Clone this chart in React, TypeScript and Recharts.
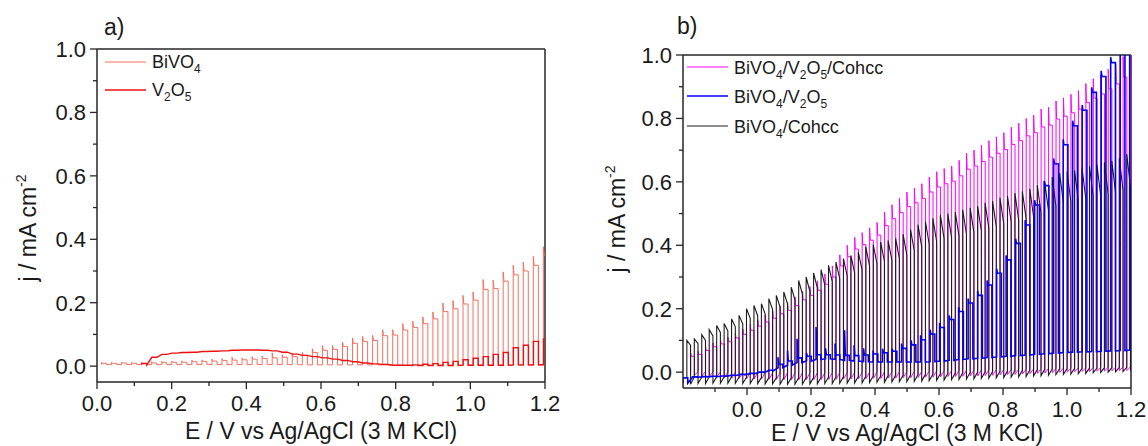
import React from "react";
import {
  LineChart,
  Line,
  XAxis,
  YAxis,
  ReferenceLine,
} from "recharts";

// ---- panel a) data: chopped-light LSV, one value per light pulse ----
const A_START = 0.012;
const A_PERIOD = 0.0269;

const bivo4Peak = [
  0.012, 0.012, 0.013, 0.012, 0.013, 0.014, 0.015, 0.016, 0.017, 0.019,
  0.02, 0.022, 0.024, 0.028, 0.026, 0.03, 0.032, 0.042, 0.036, 0.04,
  0.044, 0.055, 0.065, 0.065, 0.076, 0.089, 0.094, 0.097, 0.115, 0.115,
  0.134, 0.142, 0.155, 0.171, 0.199, 0.207, 0.223, 0.234, 0.273, 0.271,
  0.297, 0.318, 0.328, 0.346, 0.376,
];
const bivo4End = [
  0.009, 0.009, 0.01, 0.009, 0.01, 0.01, 0.011, 0.012, 0.012, 0.014,
  0.015, 0.016, 0.018, 0.019, 0.02, 0.022, 0.024, 0.026, 0.028, 0.03,
  0.034, 0.043, 0.05, 0.053, 0.062, 0.072, 0.078, 0.081, 0.096, 0.098,
  0.114, 0.122, 0.134, 0.149, 0.172, 0.181, 0.196, 0.208, 0.242, 0.245,
  0.268, 0.288, 0.3, 0.318, 0.35,
];
const bivo4Dark = [
  0.005, 0.005, 0.005, 0.005, 0.005, 0.005, 0.005, 0.005, 0.005, 0.005,
  0.005, 0.005, 0.005, 0.005, 0.005, 0.005, 0.005, 0.005, 0.005, 0.005,
  0.004, 0.004, 0.004, 0.004, 0.004, 0.004, 0.004, 0.004, 0.004, 0.004,
  0.003, 0.003, 0.003, 0.003, 0.003, 0.003, 0.003, 0.003, 0.003, 0.003,
  0.003, 0.003, 0.003, 0.003, 0.003,
];

const V2O5_START = 0.12;
const v2o5Light = [
  0.008, 0.028, 0.037, 0.041, 0.043, 0.044, 0.046, 0.047, 0.048, 0.05,
  0.051, 0.051, 0.05, 0.048, 0.044, 0.038, 0.034, 0.03, 0.026, 0.022,
  0.018, 0.014, 0.01, 0.007, 0.005, 0.003, 0.003, 0.004, 0.006, 0.008,
  0.012, 0.015, 0.02, 0.025, 0.03, 0.037, 0.043, 0.058, 0.066, 0.078,
  0.086,
];
const v2o5Dark = [
  0.004, 0.028, 0.037, 0.041, 0.043, 0.044, 0.046, 0.047, 0.048, 0.05,
  0.051, 0.051, 0.05, 0.048, 0.044, 0.038, 0.034, 0.03, 0.026, 0.022,
  0.018, 0.014, 0.01, 0.007, 0.005, 0.003, 0.003, 0.002, 0.002, 0.002,
  0.002, 0.002, 0.003, 0.003, 0.003, 0.003, 0.003, 0.004, 0.004, 0.004,
  0.005,
];

// ---- panel b) data ----
const B_PERIOD = 0.0233;
const MAG_START = -0.176;
const BLK_START = -0.188;
const BLUE_START = -0.2;
const BLUE_PERIOD = 0.0297;

const magentaPeak = [
  0.06, 0.066, 0.08, 0.092, 0.102, 0.11, 0.124, 0.136, 0.15, 0.165,
  0.18, 0.193, 0.208, 0.22, 0.237, 0.255, 0.27, 0.288, 0.31, 0.335,
  0.37, 0.4, 0.425, 0.44, 0.455, 0.472, 0.505, 0.528, 0.548, 0.568,
  0.58, 0.594, 0.615, 0.632, 0.642, 0.65, 0.668, 0.69, 0.7, 0.715,
  0.73, 0.742, 0.755, 0.772, 0.785, 0.8, 0.81, 0.83, 0.835, 0.855,
  0.865, 0.876, 0.888, 0.91, 0.925, 0.938, 0.955, 0.972, 0.995, 1.01,
];
const magentaEnd = [
  0.05, 0.056, 0.068, 0.08, 0.089, 0.096, 0.108, 0.119, 0.132, 0.145,
  0.158, 0.17, 0.184, 0.195, 0.21, 0.228, 0.242, 0.258, 0.277, 0.3,
  0.335, 0.364, 0.388, 0.402, 0.416, 0.432, 0.462, 0.484, 0.503, 0.522,
  0.534, 0.548, 0.568, 0.584, 0.594, 0.602, 0.619, 0.64, 0.65, 0.664,
  0.678, 0.69, 0.702, 0.718, 0.73, 0.745, 0.755, 0.773, 0.779, 0.798,
  0.807, 0.818, 0.829, 0.85, 0.864, 0.877, 0.893, 0.909, 0.93, 0.945,
];
const magentaDip = [
  -0.01, -0.012, -0.014, -0.016, -0.018, -0.019, -0.02, -0.021, -0.022, -0.022,
  -0.023, -0.023, -0.024, -0.024, -0.024, -0.024, -0.024, -0.024, -0.023, -0.023,
  -0.022, -0.022, -0.021, -0.021, -0.02, -0.02, -0.019, -0.019, -0.018, -0.018,
  -0.017, -0.016, -0.016, -0.015, -0.014, -0.014, -0.013, -0.012, -0.012, -0.011,
  -0.01, -0.009, -0.008, -0.007, -0.006, -0.005, -0.004, -0.003, -0.002, -0.001,
  0.0, 0.001, 0.002, 0.002, 0.003, 0.003, 0.004, 0.004, 0.005, 0.005,
];
const magentaDark = [
  0.002, 0.002, 0.002, 0.001, 0.001, 0.0, 0.0, 0.0, -0.001, -0.001,
  -0.001, -0.002, -0.002, -0.002, -0.002, -0.002, -0.002, -0.002, -0.002, -0.001,
  -0.001, -0.001, 0.0, 0.0, 0.0, 0.001, 0.001, 0.001, 0.002, 0.002,
  0.003, 0.003, 0.004, 0.004, 0.005, 0.005, 0.006, 0.006, 0.007, 0.007,
  0.008, 0.008, 0.009, 0.009, 0.01, 0.01, 0.011, 0.011, 0.012, 0.012,
  0.013, 0.013, 0.014, 0.014, 0.015, 0.015, 0.016, 0.016, 0.017, 0.017,
];

const blackPeak = [
  0.1, 0.105, 0.118, 0.134, 0.147, 0.153, 0.168, 0.179, 0.2, 0.21,
  0.216, 0.232, 0.242, 0.253, 0.268, 0.289, 0.3, 0.313, 0.323, 0.337,
  0.347, 0.358, 0.368, 0.379, 0.395, 0.402, 0.41, 0.415, 0.422, 0.435,
  0.45, 0.465, 0.475, 0.485, 0.495, 0.5, 0.505, 0.512, 0.518, 0.524,
  0.534, 0.54, 0.55, 0.556, 0.565, 0.57, 0.578, 0.59, 0.6, 0.615,
  0.628, 0.633, 0.636, 0.645, 0.65, 0.655, 0.662, 0.666, 0.675, 0.688,
];
const blackEnd = [
  0.085, 0.09, 0.1, 0.114, 0.125, 0.13, 0.143, 0.152, 0.17, 0.178,
  0.184, 0.197, 0.206, 0.215, 0.228, 0.246, 0.255, 0.266, 0.275, 0.286,
  0.295, 0.304, 0.313, 0.322, 0.336, 0.342, 0.349, 0.353, 0.359, 0.37,
  0.383, 0.395, 0.404, 0.412, 0.421, 0.425, 0.429, 0.435, 0.44, 0.445,
  0.454, 0.459, 0.468, 0.473, 0.48, 0.485, 0.491, 0.502, 0.51, 0.523,
  0.534, 0.538, 0.541, 0.548, 0.553, 0.557, 0.563, 0.566, 0.574, 0.585,
];
const blackDip = [
  -0.038, -0.036, -0.036, -0.035, -0.035, -0.035, -0.035, -0.036, -0.036, -0.036,
  -0.037, -0.037, -0.038, -0.038, -0.038, -0.038, -0.037, -0.037, -0.036, -0.036,
  -0.035, -0.035, -0.034, -0.034, -0.033, -0.032, -0.032, -0.031, -0.03, -0.03,
  -0.029, -0.028, -0.027, -0.026, -0.025, -0.024, -0.023, -0.022, -0.021, -0.02,
  -0.019, -0.018, -0.017, -0.016, -0.015, -0.014, -0.012, -0.011, -0.01, -0.008,
  -0.007, -0.006, -0.005, -0.004, -0.002, -0.001, 0.0, 0.001, 0.002, 0.004,
];
const blackDark = [
  -0.018, -0.016, -0.016, -0.015, -0.015, -0.015, -0.015, -0.016, -0.016, -0.016,
  -0.017, -0.017, -0.018, -0.018, -0.018, -0.018, -0.017, -0.017, -0.016, -0.016,
  -0.015, -0.015, -0.014, -0.014, -0.013, -0.012, -0.012, -0.011, -0.01, -0.01,
  -0.009, -0.008, -0.007, -0.006, -0.005, -0.004, -0.003, -0.002, -0.001, 0.0,
  0.001, 0.002, 0.003, 0.004, 0.005, 0.006, 0.007, 0.008, 0.009, 0.01,
  0.011, 0.011, 0.012, 0.012, 0.013, 0.013, 0.014, 0.014, 0.015, 0.015,
];

const bluePeak = [
  -0.018, -0.015, -0.014, -0.013, -0.012, -0.01, -0.007, -0.004, 0.0, 0.006,
  0.047, 0.068, 0.105, 0.06, 0.142, 0.075, 0.09, 0.132, 0.085, 0.075,
  0.068, 0.074, 0.074, 0.09, 0.1, 0.116, 0.134, 0.155, 0.179, 0.205,
  0.232, 0.256, 0.289, 0.326, 0.368, 0.421, 0.479, 0.542, 0.603, 0.674,
  0.734, 0.793, 0.842, 0.898, 0.95, 0.993, 1.04, 1.06,
];
const blueEnd = [
  -0.018, -0.015, -0.014, -0.013, -0.012, -0.01, -0.007, -0.004, 0.0, 0.006,
  0.025, 0.035, 0.045, 0.05, 0.055, 0.055, 0.054, 0.053, 0.052, 0.054,
  0.057, 0.061, 0.066, 0.075, 0.086, 0.102, 0.12, 0.141, 0.166, 0.191,
  0.218, 0.242, 0.275, 0.312, 0.354, 0.406, 0.464, 0.527, 0.588, 0.657,
  0.717, 0.777, 0.826, 0.882, 0.932, 0.976, 1.02, 1.045,
];
const blueDark = [
  -0.035, -0.016, -0.015, -0.014, -0.013, -0.011, -0.008, -0.005, -0.001, 0.004,
  0.014, 0.022, 0.03, 0.035, 0.04, 0.042, 0.04, 0.037, 0.035, 0.033,
  0.032, 0.032, 0.032, 0.032, 0.032, 0.032, 0.033, 0.035, 0.037, 0.04,
  0.042, 0.044, 0.046, 0.048, 0.05, 0.052, 0.054, 0.056, 0.058, 0.06,
  0.062, 0.063, 0.064, 0.065, 0.066, 0.067, 0.068, 0.07,
];

// ---- ticks ----
const A_X_TICKS = [0, 0.1, 0.2, 0.3, 0.4, 0.5, 0.6, 0.7, 0.8, 0.9, 1.0, 1.1, 1.2];
const A_Y_TICKS = [0, 0.1, 0.2, 0.3, 0.4, 0.5, 0.6, 0.7, 0.8, 0.9, 1.0];
const B_X_TICKS = [
  -0.15, -0.1, -0.05, 0, 0.05, 0.1, 0.15, 0.2, 0.25, 0.3, 0.35, 0.4, 0.45, 0.5,
  0.55, 0.6, 0.65, 0.7, 0.75, 0.8, 0.85, 0.9, 0.95, 1.0, 1.05, 1.1, 1.15, 1.2,
];
const B_Y_TICKS = [
  0, 0.05, 0.1, 0.15, 0.2, 0.25, 0.3, 0.35, 0.4, 0.45, 0.5, 0.55, 0.6, 0.65,
  0.7, 0.75, 0.8, 0.85, 0.9, 0.95, 1.0,
];
const MAJOR = [0, 0.2, 0.4, 0.6, 0.8, 1.0, 1.2];

const AXIS = "#262626";
const FONT = "'Liberation Sans', Arial, sans-serif";
const C_BIVO4 = "#f4705f";
const C_V2O5 = "#f01010";
const C_MAG = "#ff00ff";
const C_BLUE = "#0000f0";
const C_BLACK = "#1c1c1c";

interface Pt {
  x: number;
  y: number;
}

// one light pulse = dark -> peak (light on) -> plateau -> light off -> dark
function chopped(
  start: number,
  period: number,
  peak: number[],
  end: number[],
  dark: number[],
  decay: boolean,
  dip?: number[]
): Pt[] {
  const pts: Pt[] = [];
  peak.forEach((p, i) => {
    const on = start + i * period;
    const off = on + period / 2;
    pts.push({ x: on, y: dark[i] });
    pts.push({ x: on, y: p });
    if (!decay) pts.push({ x: on + period * 0.08, y: end[i] });
    pts.push({ x: off, y: end[i] });
    pts.push({ x: off, y: dip ? dip[i] : dark[i] });
  });
  return pts;
}

const isMajor = (v: number) => MAJOR.some((m) => Math.abs(m - v) < 1e-6);

function YTick(props: any) {
  const { x, y, payload } = props;
  const major = isMajor(payload.value);
  return (
    <g>
      <line x1={x - (major ? 7 : 4)} x2={x} y1={y} y2={y} stroke={AXIS} strokeWidth={1.3} />
      {major && (
        <text x={x - 11} y={y + 8} textAnchor="end" fontSize={22} fill="#1a1a1a" fontFamily={FONT}>
          {payload.value.toFixed(1)}
        </text>
      )}
    </g>
  );
}

function XTick(props: any) {
  const { x, y, payload } = props;
  const major = isMajor(payload.value);
  return (
    <g>
      <line x1={x} x2={x} y1={y} y2={y + (major ? 7 : 4)} stroke={AXIS} strokeWidth={1.3} />
      {major && (
        <text x={x} y={y + 29} textAnchor="middle" fontSize={22} fill="#1a1a1a" fontFamily={FONT}>
          {payload.value.toFixed(1)}
        </text>
      )}
    </g>
  );
}

const sub = (t: string) => (
  <tspan fontSize={12} dy={5}>
    {t}
  </tspan>
);
const up = (t: string) => <tspan dy={-5}>{t}</tspan>;

export default function App() {
  const bivo4 = chopped(A_START, A_PERIOD, bivo4Peak, bivo4End, bivo4Dark, false);
  const v2o5 = chopped(V2O5_START, A_PERIOD, v2o5Light, v2o5Light, v2o5Dark, false);
  const mag = chopped(MAG_START, B_PERIOD, magentaPeak, magentaEnd, magentaDark, false, magentaDip);
  const blk = chopped(BLK_START, B_PERIOD, blackPeak, blackEnd, blackDark, true, blackDip);
  const blue = chopped(BLUE_START, BLUE_PERIOD, bluePeak, blueEnd, blueDark, false);

  const txt = { fontFamily: FONT, fill: "#1a1a1a" };

  return (
    <div style={{ position: "absolute", left: 0, top: 0, width: 1148, height: 446, background: "#fff" }}>
      <div style={{ position: "absolute", left: 0, top: 0 }}>
        <LineChart width={560} height={446} margin={{ top: 49, right: 15, bottom: 0, left: 0 }}>
          <XAxis
            type="number"
            dataKey="x"
            domain={[0, 1.2]}
            ticks={A_X_TICKS}
            allowDataOverflow
            height={64}
            tickSize={0}
            tickMargin={0}
            tick={(p: any) => <XTick {...p} />}
            axisLine={{ stroke: AXIS, strokeWidth: 1.5 }}
          />
          <YAxis
            type="number"
            domain={[-0.05, 1]}
            ticks={A_Y_TICKS}
            allowDataOverflow
            width={97}
            tickSize={0}
            tickMargin={0}
            tick={(p: any) => <YTick {...p} />}
            axisLine={{ stroke: AXIS, strokeWidth: 1.5 }}
          />
          <ReferenceLine y={1} stroke={AXIS} strokeWidth={1.5} />
          <ReferenceLine x={1.2} stroke={AXIS} strokeWidth={1.5} />
          <Line data={bivo4} dataKey="y" type="linear" dot={false} stroke={C_BIVO4} strokeWidth={1} isAnimationActive={false} />
          <Line data={v2o5} dataKey="y" type="linear" dot={false} stroke={C_V2O5} strokeWidth={1.4} isAnimationActive={false} />
        </LineChart>
      </div>

      <div style={{ position: "absolute", left: 570, top: 0 }}>
        <LineChart width={578} height={446} margin={{ top: 55, right: 17, bottom: 0, left: 0 }}>
          <XAxis
            type="number"
            dataKey="x"
            domain={[-0.2, 1.2]}
            ticks={B_X_TICKS}
            allowDataOverflow
            height={58}
            tickSize={0}
            tickMargin={0}
            tick={(p: any) => <XTick {...p} />}
            axisLine={{ stroke: AXIS, strokeWidth: 1.5 }}
          />
          <YAxis
            type="number"
            domain={[-0.05, 1]}
            ticks={B_Y_TICKS}
            allowDataOverflow
            width={113}
            tickSize={0}
            tickMargin={0}
            tick={(p: any) => <YTick {...p} />}
            axisLine={{ stroke: AXIS, strokeWidth: 1.5 }}
          />
          <ReferenceLine y={1} stroke={AXIS} strokeWidth={1.5} />
          <ReferenceLine x={1.2} stroke={AXIS} strokeWidth={1.5} />
          <Line data={mag} dataKey="y" type="linear" dot={false} stroke={C_MAG} strokeWidth={1} isAnimationActive={false} />
          <Line data={blk} dataKey="y" type="linear" dot={false} stroke={C_BLACK} strokeWidth={1.1} isAnimationActive={false} />
          <Line data={blue} dataKey="y" type="linear" dot={false} stroke={C_BLUE} strokeWidth={1.6} isAnimationActive={false} />
        </LineChart>
      </div>

      {/* titles, axis labels and legends */}
      <svg width={1148} height={446} style={{ position: "absolute", left: 0, top: 0, pointerEvents: "none" }}>
        <text x={104} y={35} fontSize={23} {...txt}>a)</text>
        <text x={677} y={34} fontSize={23} {...txt}>b)</text>

        <text x={28} y={236} fontSize={23} textAnchor="middle" transform="rotate(-90 28 228)" {...txt}>
          j / mA cm<tspan fontSize={14} dy={-10}>-2</tspan>
        </text>
        <text x={617} y={227} fontSize={23} textAnchor="middle" transform="rotate(-90 617 219)" {...txt}>
          j / mA cm<tspan fontSize={14} dy={-10}>-2</tspan>
        </text>
        <text x={321} y={439} fontSize={23} textAnchor="middle" {...txt}>E / V vs Ag/AgCl (3 M KCl)</text>
        <text x={907} y={441} fontSize={23} textAnchor="middle" {...txt}>E / V vs Ag/AgCl (3 M KCl)</text>

        <line x1={105} x2={146} y1={62} y2={62} stroke={C_BIVO4} strokeWidth={1} />
        <text x={152} y={68} fontSize={18} {...txt}>BiVO{sub("4")}</text>
        <line x1={105} x2={146} y1={90} y2={90} stroke={C_V2O5} strokeWidth={1.4} />
        <text x={152} y={96} fontSize={18} {...txt}>V{sub("2")}{up("O")}{sub("5")}</text>

        <line x1={687} x2={728} y1={67} y2={67} stroke={C_MAG} strokeWidth={1} />
        <text x={734} y={74} fontSize={18} {...txt}>
          BiVO{sub("4")}{up("/V")}{sub("2")}{up("O")}{sub("5")}{up("/Cohcc")}
        </text>
        <line x1={687} x2={728} y1={96} y2={96} stroke={C_BLUE} strokeWidth={1.6} />
        <text x={734} y={103} fontSize={18} {...txt}>
          BiVO{sub("4")}{up("/V")}{sub("2")}{up("O")}{sub("5")}
        </text>
        <line x1={687} x2={728} y1={126} y2={126} stroke={C_BLACK} strokeWidth={1} />
        <text x={734} y={133} fontSize={18} {...txt}>
          BiVO{sub("4")}{up("/Cohcc")}
        </text>
      </svg>
    </div>
  );
}
